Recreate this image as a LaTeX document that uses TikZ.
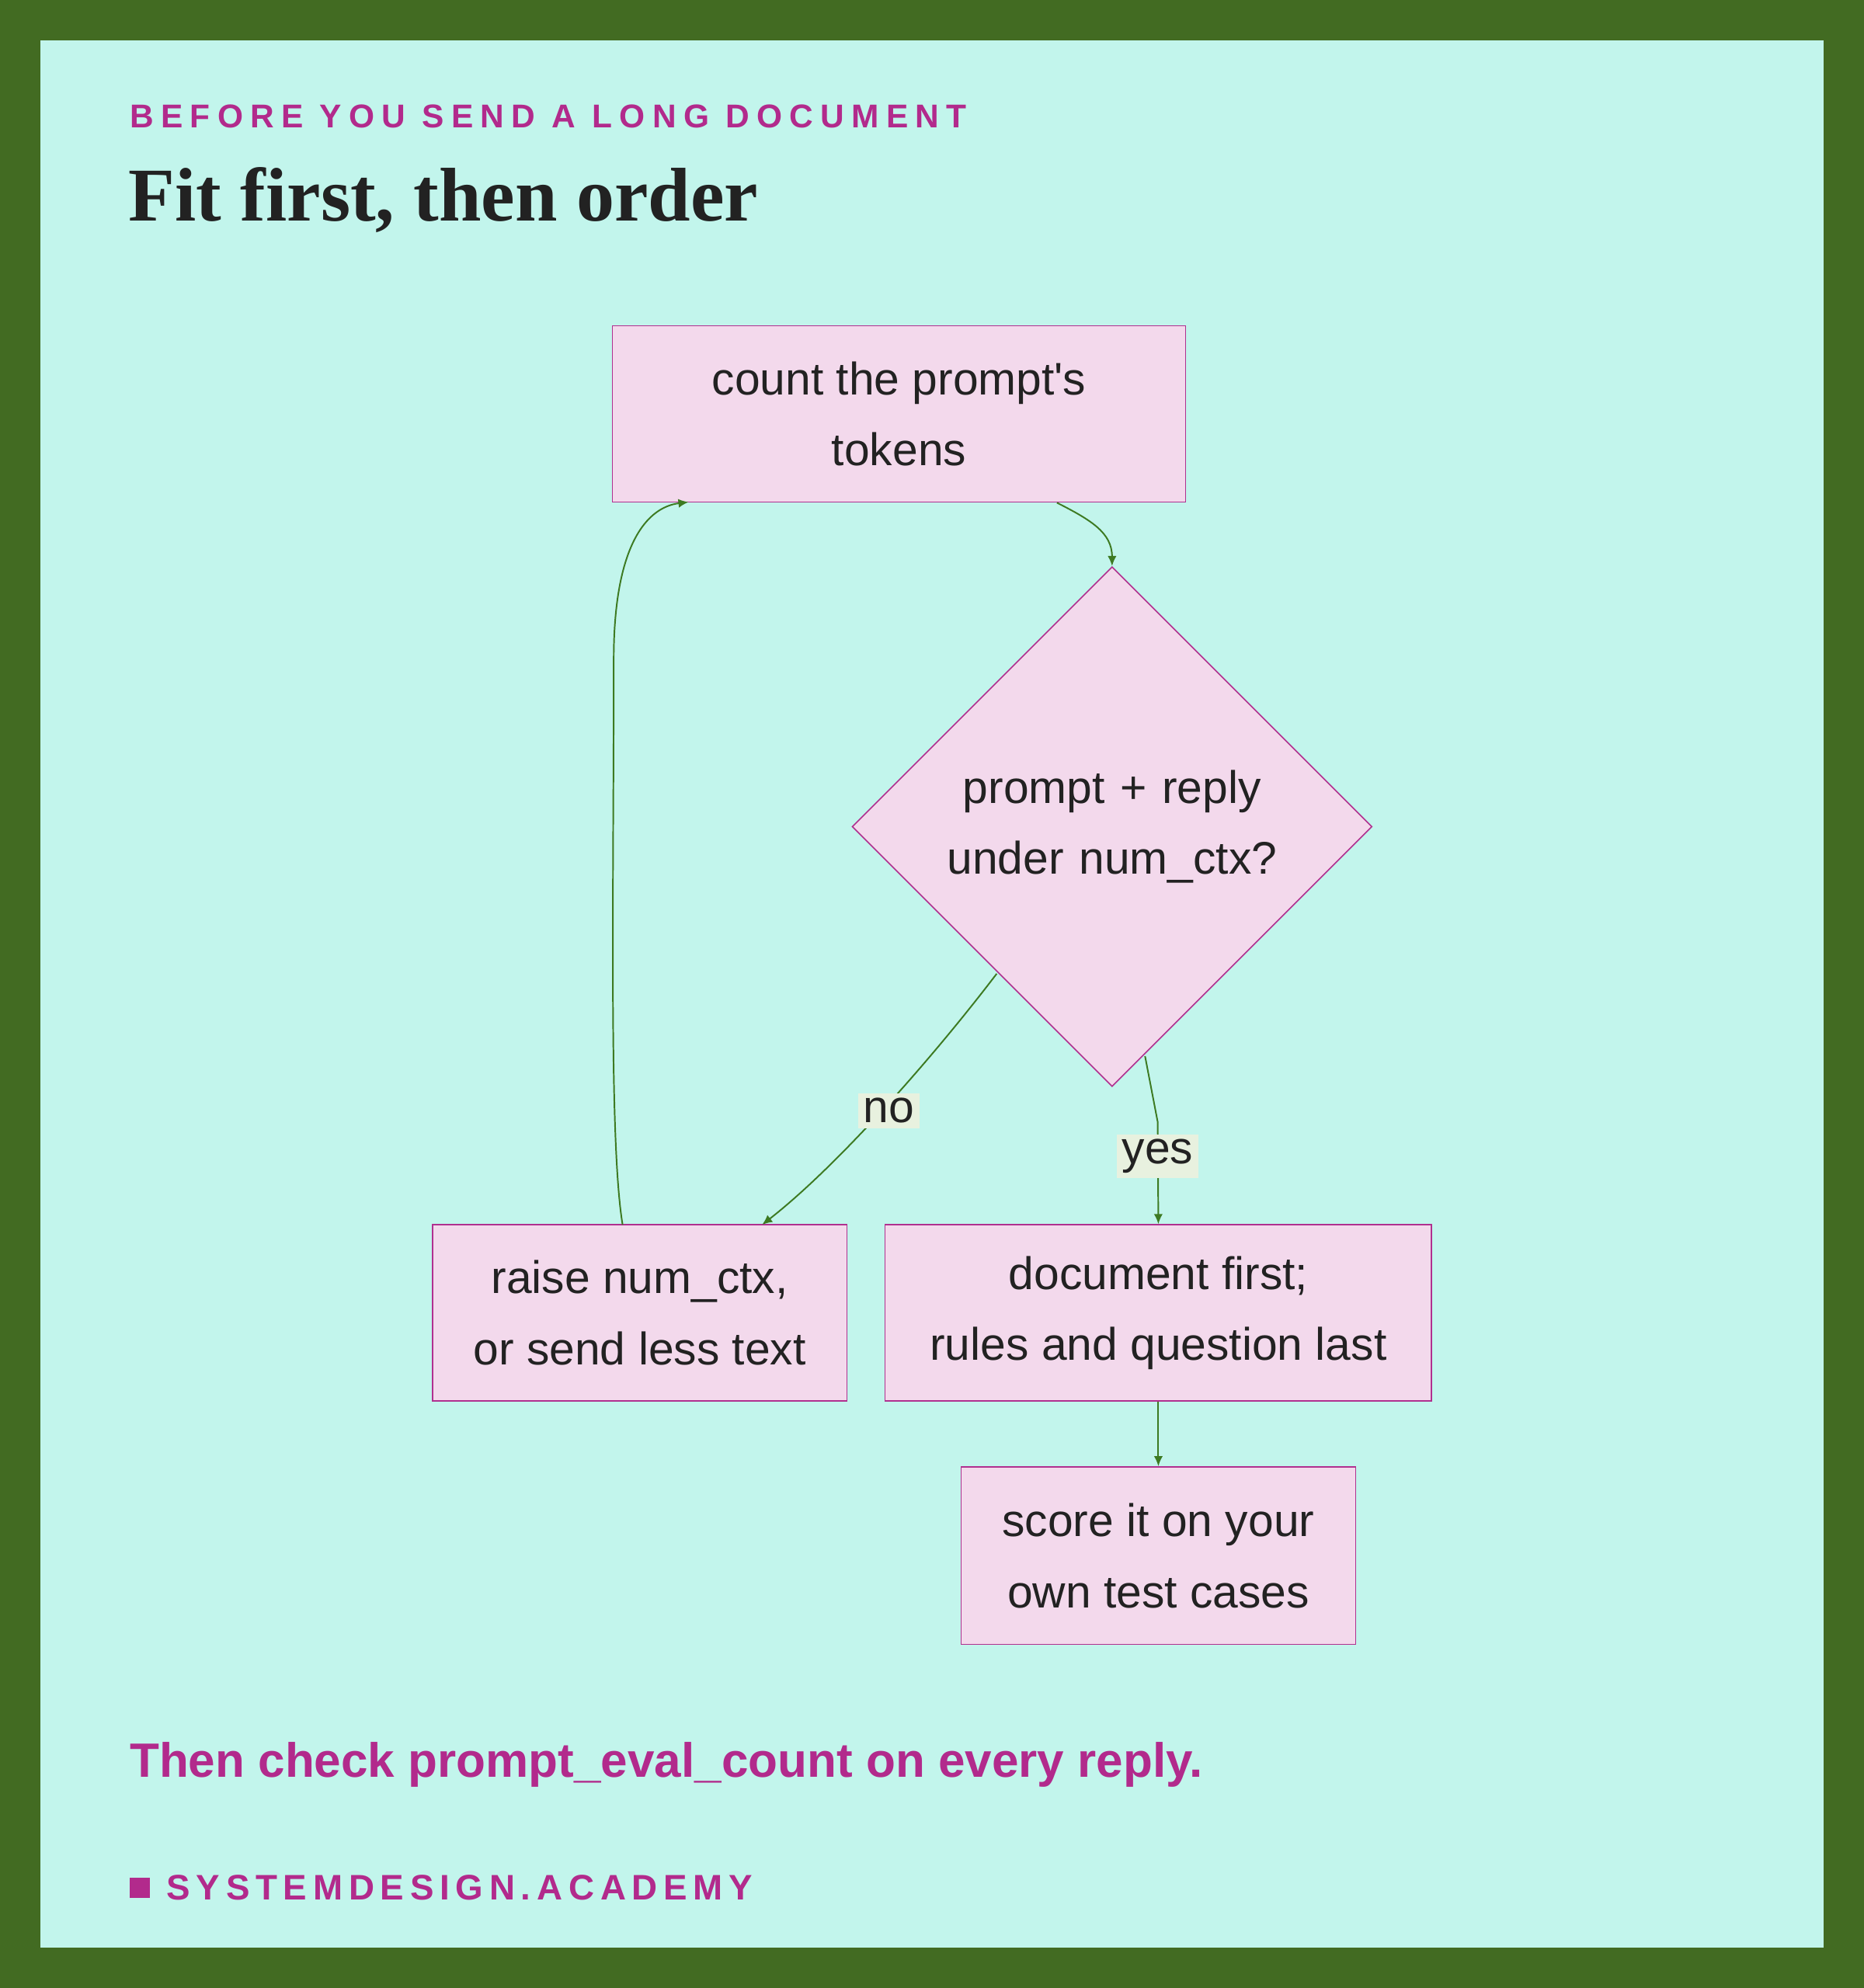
\documentclass[tikz,border=0pt]{standalone}
\usepackage{fontspec}
\setmainfont{Liberation Sans}
\newfontfamily\serifb{Liberation Serif}
\usetikzlibrary{shapes.geometric,arrows.meta}
\definecolor{frame}{HTML}{426B22}
\definecolor{mint}{HTML}{C2F5EC}
\definecolor{boxf}{HTML}{F3D9EC}
\definecolor{boxd}{HTML}{B0308F}
\definecolor{ink}{HTML}{222222}
\definecolor{mag}{HTML}{B22A8C}
\definecolor{edge}{HTML}{3D7A22}
\definecolor{lbl}{HTML}{E8F1DF}
\begin{document}
\begin{tikzpicture}[x=0.5pt,y=-0.5pt,
  box/.style={draw=boxd,fill=boxf,line width=0.5pt,text=ink,align=center,font=\fontsize{18}{28}\selectfont,inner sep=0pt},
  conn/.style={draw=edge,line width=0.6pt,-{Latex[length=4pt,width=3.5pt]}},
  lab/.style={fill=lbl,text=ink,font=\fontsize{18}{20}\selectfont,inner sep=2pt},
  txt/.style={anchor=west,inner sep=0pt}]
\fill[frame] (0,0) rectangle (1470,1568);
\fill[mint] (32,32) rectangle (1438,1536);
\node[txt,text=mag,font=\bfseries\fontsize{13}{15}\selectfont] (hd) at (102,92) {\addfontfeature{LetterSpace=22}BEFORE YOU SEND A LONG DOCUMENT};
\node[txt,text=ink,font=\serifb\bfseries\fontsize{30}{34}\selectfont] (ti) at (101,158) {Fit first, then order};
\node[box,minimum width=226pt,minimum height=69.5pt] (count) at (709,326.5) {count the prompt\textquotesingle s\\tokens};
\node[box,shape=diamond,minimum width=205pt,minimum height=205pt,text width=150pt] (dec) at (877,652) {prompt + reply\\under num\_ctx?};
\node[box,minimum width=163.5pt,minimum height=69.5pt] (raise) at (504.5,1035.5) {raise num\_ctx,\\or send less text};
\node[box,minimum width=215.5pt,minimum height=69.5pt] (doc) at (913.5,1035.5) {document first;\\rules and question last};
\node[box,minimum width=155.5pt,minimum height=70pt] (score) at (913.5,1227) {score it on your\\own test cases};
\draw[conn] (count.south east) ++(-102,0) coordinate (c1) .. controls (860,410) and (877,420) .. (dec.north);
\draw[conn] (786,768) coordinate (d1) .. controls (735,835) and (660,920) .. (601,966);
\node[lab] (no) at (701,876) {no};
\draw[conn] (903,833) coordinate (d2) -- (913,885) -- (doc.north);
\node[lab] (yes) at (913,912) {yes};
\draw[conn] (doc) -- (score);
\draw[conn] (491,966) coordinate (r1) .. controls (480,900) and (484,700) .. (484,520) .. controls (484,430) and (510,400) .. (543,396);
\node[txt,text=mag,font=\bfseries\fontsize{19}{22}\selectfont] (ft) at (102,1392) {Then check prompt\_eval\_count on every reply.};
\fill[mag] (102,1481) rectangle (118,1497);
\node[txt,text=mag,font=\bfseries\fontsize{14}{16}\selectfont] (ac) at (131,1489) {\addfontfeature{LetterSpace=17}SYSTEMDESIGN.ACADEMY};
\end{tikzpicture}
\end{document}
